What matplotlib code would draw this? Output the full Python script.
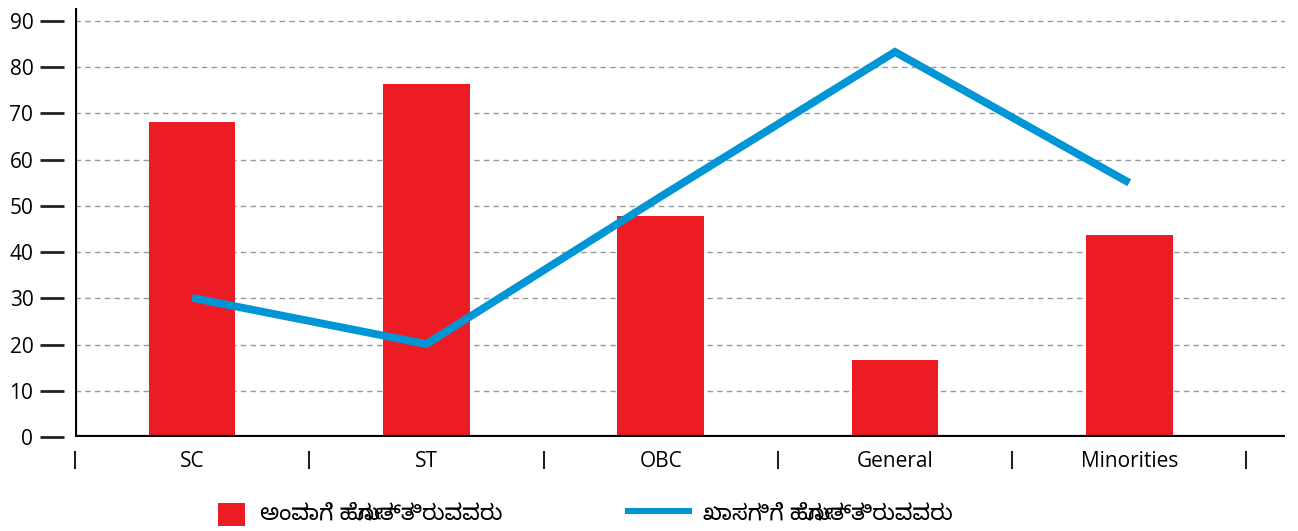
import matplotlib
matplotlib.use('Agg')
from matplotlib import pyplot as plt
from matplotlib import font_manager
from matplotlib.patches import Rectangle
from matplotlib.lines import Line2D
from matplotlib.ft2font import FT2Font
import numpy as np

# Data
categories = ['SC', 'ST', 'OBC', 'General', 'Minorities']
bar_values = [68.2, 76.4, 47.8, 16.7, 43.7]
line_values = [30.1, 20.1, 52.0, 83.3, 55.0]
bar_label = 'ಅಂವಾಗೆ ಹೋಗುತ್ತಿರುವವರು'
line_label = 'ಖಾಸಗಿಗೆ ಹೋಗುತ್ತಿರುವವರು'
yticks = list(range(0, 100, 10))

# Pick a font that can draw Kannada, Noto Sans Kannada first
kn_font = None
candidates = []
for f in font_manager.findSystemFonts():
    try:
        if ord('ಅ') in FT2Font(f).get_charmap():
            candidates.append(f)
    except Exception:
        pass
candidates.sort(key=lambda f: (0 if 'NotoSansKannada[' in f else 1 if 'Kannada' in f else 2))
if candidates:
    font_manager.fontManager.addfont(candidates[0])
    kn_font = font_manager.FontProperties(fname=candidates[0]).get_name()

plt.rcParams['font.family'] = ['Open Sans', 'DejaVu Sans']

fig = plt.figure(figsize=(12.98, 5.31), dpi=100)
W, H = 1298.0, 531.0
ax = fig.add_axes([75/W, 1 - 437/H, (1285 - 75)/W, (437 - 8)/H])

x = np.arange(len(categories))
ax.bar(x, bar_values, width=0.37, color='#ed1c24', zorder=2)
ax.plot(x, line_values, color='#0096d6', linewidth=5.6, solid_capstyle='butt',
        solid_joinstyle='miter', zorder=3)

ax.set_xlim(-0.5, 4.665)
ax.set_ylim(0, 92.8)

# grid
for y in yticks[1:]:
    ax.axhline(y, color='#999999', linestyle=(0, (4, 3)), linewidth=1, zorder=1)

# axis lines drawn by hand, spines pushed out to carry the ticks
for s in ['top', 'right', 'left', 'bottom']:
    ax.spines[s].set_visible(False)
ax.spines['left'].set_position(('outward', 8))
ax.spines['bottom'].set_position(('outward', 10))
ax.axvline(-0.5, color='black', linewidth=3, zorder=4)
ax.axhline(0, color='black', linewidth=3, zorder=4)

ax.set_yticks(yticks)
ax.tick_params(axis='y', length=17, width=2, color='#222222', labelsize=15, pad=5)

ax.set_xticks(x)
ax.set_xticklabels(categories)
ax.set_xticks(np.arange(-0.5, 5, 1), minor=True)
ax.tick_params(axis='x', which='major', length=0, labelsize=15, pad=0)
ax.tick_params(axis='x', which='minor', length=13, width=1.5, color='#222222')

# legend, placed by hand
fam = [kn_font, 'DejaVu Sans'] if kn_font else ['DejaVu Sans']
fig.patches.append(Rectangle((218/W, 1 - 526/H), 27/W, 23/H, transform=fig.transFigure,
                             facecolor='#ed1c24', edgecolor='none'))
fig.text(260/W, 1 - 514/H, bar_label, family=fam, fontsize=16, va='center', ha='left')
fig.lines.append(Line2D([625/W, 692/W], [1 - 511/H, 1 - 511/H], transform=fig.transFigure,
                        color='#0096d6', linewidth=4.4, solid_capstyle='butt'))
fig.text(703/W, 1 - 514/H, line_label, family=fam, fontsize=16, va='center', ha='left')

fig.savefig('out.png', dpi=100)
